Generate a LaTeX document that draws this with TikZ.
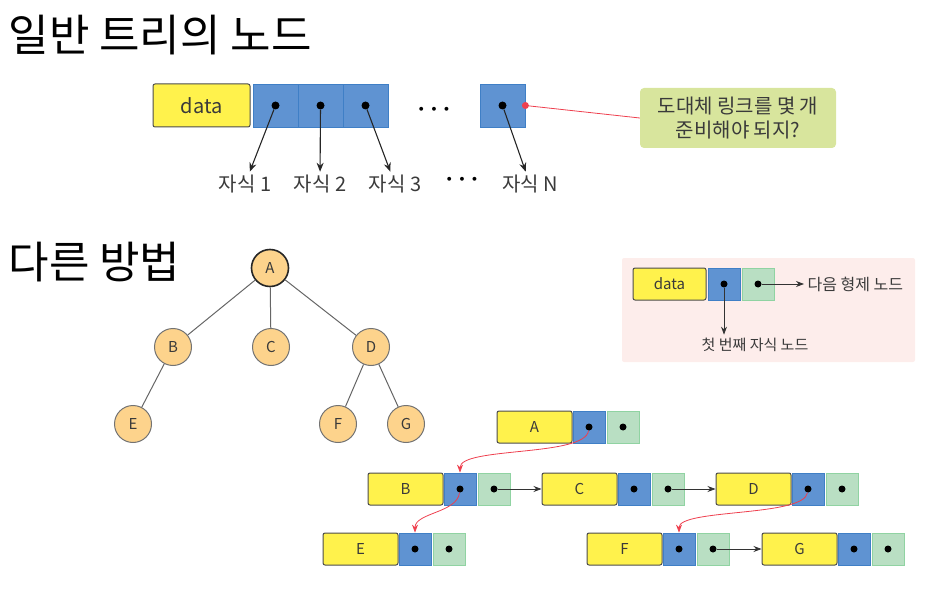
\documentclass[tikz,border=0pt]{standalone}
\usepackage{fontspec}
\setmainfont{Noto Sans CJK KR}
\usetikzlibrary{arrows.meta}

\definecolor{cellyellow}{HTML}{FFF24C}
\definecolor{cellblue}{HTML}{5F93D2}
\definecolor{cellblueline}{HTML}{3F7FC6}
\definecolor{cellgreen}{HTML}{B9DFC3}
\definecolor{cellgreenline}{HTML}{90D3A2}
\definecolor{treeorange}{HTML}{FDD38C}
\definecolor{calloutgreen}{HTML}{D8E59D}
\definecolor{legendpink}{HTML}{FDEDEB}
\definecolor{linkred}{HTML}{EE3F4E}
\definecolor{inktext}{HTML}{3A3A3A}

\begin{document}
\begin{tikzpicture}[x=1pt,y=-1pt,
	datacell/.style={draw=black!70, fill=cellyellow, rounded corners=2pt, line width=1pt, text=inktext, inner sep=0pt},
	linkcell/.style={draw=cellblueline, fill=cellblue, line width=0.8pt, inner sep=0pt},
	sibcell/.style={draw=cellgreenline, fill=cellgreen, line width=0.8pt, inner sep=0pt},
	ptr/.style={circle, fill=black, inner sep=0pt, minimum size=7pt},
	tnode/.style={circle, draw=black!55, fill=treeorange, line width=1pt, minimum size=37pt, inner sep=0pt, text=inktext, font=\fontsize{15}{15}\selectfont},
	tedge/.style={draw=black!60, line width=1pt},
	dots/.style={font=\fontsize{26}{26}\selectfont\boldmath},
	arr/.style={-{Stealth[length=9pt,width=7pt]}, line width=1.1pt, black!85},
	sibarr/.style={-{Stealth[length=8pt,width=6pt]}, line width=0.8pt, black!80},
	childarr/.style={-{Stealth[length=8pt,width=6pt]}, line width=0.8pt, linkred}]
\useasboundingbox (0,0) rectangle (940,615);

% titles
\node[anchor=west, font=\fontsize{44}{48}\selectfont] (title1) at (5,35) {일반 트리의 노드};
\node[anchor=west, font=\fontsize{44}{48}\selectfont] (title2) at (5,262) {다른 방법};

% general tree node
\node[datacell, minimum width=97, minimum height=43, font=\fontsize{20}{20}\selectfont] (gdata) at (201.5,105.5) {data};
\foreach \i/\x in {1/275.5, 2/320.5, 3/365.5, N/502.5} {
	\node[linkcell, minimum width=45, minimum height=43] (gl\i) at (\x,105.5) {};
	\node[ptr, minimum size=8pt] (gp\i) at (gl\i) {};
}
\node[dots] (gdots) at (434,110) {$\cdots$};
\foreach \i/\x in {1/245, 2/320, 3/395, N/530}
	\node[font=\fontsize{20}{20}\selectfont, text=inktext, inner sep=3pt] (gk\i) at (\x,184) {자식 \i};
\node[dots] (gkdots) at (462,180) {$\cdots$};
\foreach \i in {1,2,3,N}
	\draw[arr] (gp\i) -- (gk\i);

\node[fill=calloutgreen, rounded corners=4pt, minimum width=196, minimum height=60, align=center, text=inktext, font=\fontsize{20}{24}\selectfont] (ask) at (738,118) {도대체 링크를 몇 개\\준비해야 되지?};
\draw[linkred, line width=0.8pt] (glN.east) -- (ask.west);
\fill[linkred] (glN.east) circle (3.5pt);

% tree
\node[tnode, draw=black!85, line width=1.6pt] (A) at (270,268) {A};
\node[tnode] (B) at (173,347) {B};
\node[tnode] (C) at (271,347) {C};
\node[tnode] (D) at (371,347) {D};
\node[tnode] (E) at (133,424) {E};
\node[tnode] (F) at (338,424) {F};
\node[tnode] (G) at (406,424) {G};
\foreach \a/\b in {A/B, A/C, A/D, B/E, D/F, D/G}
	\draw[tedge] (\a) -- (\b);

% legend
\node[fill=legendpink, rounded corners=2pt, minimum width=293, minimum height=104] (legend) at (768.5,310) {};
\node[datacell, minimum width=73, minimum height=32, font=\fontsize{15}{15}\selectfont] (ldata) at (669.5,284) {data};
\node[linkcell, minimum size=32] (llink) at (724,284) {};
\node[sibcell, minimum size=32] (lsib) at (758,284) {};
\node[ptr] (lp1) at (llink) {};
\node[ptr] (lp2) at (lsib) {};
\node[anchor=west, text=inktext, font=\fontsize{16}{16}\selectfont] (lnext) at (804,284) {다음 형제 노드};
\node[text=inktext, font=\fontsize{15}{15}\selectfont] (lfirst) at (755,345) {첫 번째 자식 노드};
\draw[sibarr] (lp2) -- (lnext.west);
\draw[sibarr] (lp1) -- (lp1 |- lfirst.north);

% child-sibling nodes
\foreach \n/\l/\h in {A/497/427, B/368/489, C/542/489, D/716/489, E/323/549, F/587/549, G/762/549} {
	\node[datacell, minimum width=75, minimum height=32, font=\fontsize{15}{15}\selectfont] (y\n) at (\l+37.5,\h) {\n};
	\node[linkcell, minimum size=32] (b\n) at (\l+92,\h) {};
	\node[sibcell, minimum size=32] (g\n) at (\l+126,\h) {};
	\node[ptr] (pb\n) at (b\n) {};
	\node[ptr] (pg\n) at (g\n) {};
}
\draw[sibarr] (pgB) -- (yC);
\draw[sibarr] (pgC) -- (yD);
\draw[sibarr] (pgF) -- (yG);
\draw[childarr] (pbA) .. controls +(-4,30) and +(0,-26) .. (bB.north);
\draw[childarr] (pbB) .. controls +(-3,24) and +(0,-20) .. (bE.north);
\draw[childarr] (pbD) .. controls +(-4,28) and +(0,-24) .. (bF.north);

\end{tikzpicture}
\end{document}
